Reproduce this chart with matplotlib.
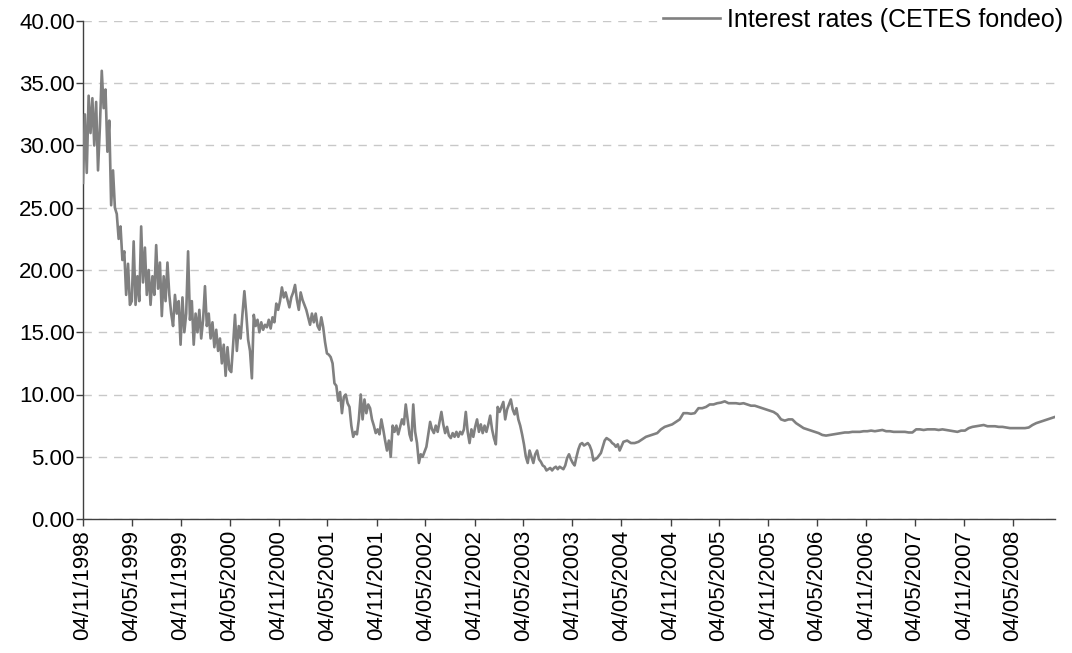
"""
CETES fondeo interest rate, Nov 1998 - Oct 2008.

Weekly readings for the volatile 1998-2004 stretch, then every two weeks
once the series calms down.
"""

import matplotlib

matplotlib.use("Agg")
import matplotlib.pyplot as plt
import pandas as pd
from matplotlib.ticker import FormatStrFormatter, MultipleLocator, NullLocator

OUTPUT_PATH = "out.png"

COLOR_LINE = "#808080"
COLOR_GRID = "#c8c8c8"
COLOR_AXIS = "#404040"
COLOR_INK = "#000000"

SERIES_LABEL = "Interest rates (CETES fondeo)"

# weekly values, first week 04/11/1998
WEEKLY_START = "1998-11-04"
weekly_rates = [
    27.0, 32.5, 27.8, 34.0, 31.0, 33.8, 30.0, 33.5, 28.0, 31.5,
    36.0, 33.0, 34.5, 29.5, 32.0, 25.2, 28.0, 25.0, 24.5, 22.5,
    23.5, 20.8, 21.5, 18.0, 20.5, 17.2, 17.5, 22.3, 17.2, 19.5,
    17.5, 23.5, 19.0, 21.8, 18.0, 20.0, 17.2, 19.5, 18.0, 22.0,
    18.5, 20.6, 16.3, 19.5, 17.5, 20.6, 18.0, 16.5, 15.5, 18.0,
    16.5, 17.5, 14.0, 17.8, 15.0, 16.5, 21.5, 16.0, 17.5, 14.0,
    16.5, 15.0, 16.8, 14.5, 16.0, 18.7, 15.5, 16.5, 14.5, 15.8,
    13.8, 15.2, 13.5, 14.5, 12.5, 14.0, 11.5, 13.8, 12.0, 11.8,
    14.0, 16.4, 13.5, 15.5, 14.5, 16.5, 18.3, 16.5, 14.4, 13.5,
    11.3, 16.4, 15.5, 16.0, 15.0, 15.8, 15.2, 15.6, 15.4, 16.0,
    15.3, 16.2, 15.8, 17.3, 16.8, 17.5, 18.6, 17.8, 18.2, 17.6,
    17.0, 17.8, 18.2, 18.8, 17.6, 16.8, 18.2, 17.6, 17.2, 16.8,
    16.2, 15.6, 16.5, 15.8, 16.5, 15.5, 15.2, 16.2, 15.4, 14.2,
    13.3, 13.2, 13.0, 12.5, 10.9, 10.7, 9.5, 10.2, 8.5, 9.8,
    10.0, 9.3, 9.0, 7.5, 6.6, 7.0, 6.8, 8.0, 10.0, 8.0,
    9.6, 8.5, 9.2, 8.9, 8.0, 7.5, 6.9, 7.2, 6.8, 8.0,
    7.2, 6.3, 5.5, 6.3, 5.0, 7.5, 7.0, 7.5, 6.8, 7.4,
    8.0, 7.6, 9.2, 8.0, 6.8, 6.3, 9.2, 7.0, 6.1, 4.5,
    5.2, 5.0, 5.4, 5.8, 6.8, 7.8, 7.2, 6.9, 7.5, 7.0,
    7.8, 8.6, 7.6, 6.9, 7.4, 6.7, 6.5, 6.9, 6.6, 7.0,
    6.6, 7.0, 6.8, 7.2, 8.6, 7.0, 6.1, 7.2, 6.6, 7.4,
    8.0, 7.0, 7.6, 6.9, 7.5, 7.0, 7.6, 8.3, 7.2, 6.5,
    6.0, 9.0, 8.6, 9.0, 9.4, 8.0, 8.8, 9.2, 9.6, 8.8,
    8.4, 8.9, 8.0, 7.5, 6.8, 6.0, 5.0, 4.5, 5.5, 5.0,
    4.5, 5.2, 5.5, 4.8, 4.6, 4.3, 4.2, 3.9, 4.0, 4.1,
    3.9, 4.1, 4.2, 4.0, 4.2, 4.1, 4.0, 4.3, 4.9, 5.2,
    4.8, 4.5, 4.3, 5.0, 5.6, 6.0, 6.1, 5.9, 6.0, 6.1,
    5.9, 5.5, 4.7, 4.8, 4.9, 5.1, 5.3, 5.8, 6.3, 6.5,
    6.4, 6.3, 6.1, 6.0, 5.8, 6.0, 5.5,
]

# fortnightly values after the weekly stretch
fortnightly_rates = [
    6.2, 6.3, 6.1, 6.1, 6.2, 6.4, 6.6, 6.7, 6.8, 6.9,
    7.2, 7.4, 7.5, 7.6, 7.8, 8.0, 8.5, 8.5, 8.45, 8.5,
    8.9, 8.9, 9.0, 9.2, 9.2, 9.3, 9.35, 9.45, 9.3, 9.3,
    9.3, 9.25, 9.3, 9.2, 9.1, 9.1, 9.0, 8.9, 8.8, 8.7,
    8.6, 8.4, 8.0, 7.9, 8.0, 8.0, 7.7, 7.5, 7.3, 7.2,
    7.1, 7.0, 6.9, 6.75, 6.7, 6.75, 6.8, 6.85, 6.9, 6.95,
    6.95, 7.0, 7.0, 7.0, 7.05, 7.05, 7.1, 7.05, 7.1, 7.15,
    7.05, 7.05, 7.0, 7.0, 7.0, 7.0, 6.95, 6.95, 7.2, 7.2,
    7.15, 7.2, 7.2, 7.2, 7.15, 7.2, 7.15, 7.1, 7.05, 7.0,
    7.1, 7.1, 7.3, 7.4, 7.45, 7.5, 7.55, 7.45, 7.45, 7.45,
    7.4, 7.4, 7.35, 7.3, 7.3, 7.3, 7.3, 7.3, 7.35, 7.55,
    7.7, 7.8, 7.9, 8.0, 8.1, 8.2,
]

Y_TICKS_STEP = 5
Y_MAX = 40
FIRST_TICK = "1998-11-04"
N_TICKS = 20


def build_series() -> pd.Series:
    weekly_dates = pd.date_range(WEEKLY_START, periods=len(weekly_rates), freq="7D")
    fort_start = weekly_dates[-1] + pd.Timedelta(days=14)
    fort_dates = pd.date_range(fort_start, periods=len(fortnightly_rates), freq="14D")
    dates = weekly_dates.append(fort_dates)
    return pd.Series(weekly_rates + fortnightly_rates, index=dates)


def tick_dates() -> list:
    first = pd.Timestamp(FIRST_TICK)
    return [first + pd.DateOffset(months=6 * i) for i in range(N_TICKS)]


def main() -> None:
    plt.rcParams["font.family"] = ["Liberation Sans", "DejaVu Sans"]
    series = build_series()

    fig = plt.figure(figsize=(10.72, 6.53), dpi=100)
    ax = fig.add_axes([83 / 1072, 1 - 519 / 653, (1055 - 83) / 1072, (519 - 21) / 653])

    ax.plot(series.index, series.values, color=COLOR_LINE, linewidth=1.9,
            label=SERIES_LABEL, zorder=3)

    ax.set_ylim(0, Y_MAX)
    ax.set_xlim(pd.Timestamp(FIRST_TICK), series.index[-1])
    ax.yaxis.set_major_locator(MultipleLocator(Y_TICKS_STEP))
    ax.yaxis.set_major_formatter(FormatStrFormatter("%.2f"))

    ticks = tick_dates()
    ax.set_xticks(ticks)
    ax.set_xticklabels([t.strftime("%d/%m/%Y") for t in ticks], rotation=90)
    ax.xaxis.set_minor_locator(NullLocator())
    ax.yaxis.set_minor_locator(NullLocator())

    ax.tick_params(axis="both", labelsize=16, colors=COLOR_AXIS,
                   labelcolor=COLOR_INK, length=5, width=1, direction="out")
    ax.tick_params(axis="x", pad=3)
    ax.tick_params(axis="y", pad=1)

    ax.yaxis.grid(True, color=COLOR_GRID, linewidth=1, linestyle=(0, (6, 5)))
    ax.set_axisbelow(True)
    for spine in ("top", "right"):
        ax.spines[spine].set_visible(False)
    for spine in ("left", "bottom"):
        ax.spines[spine].set_color(COLOR_AXIS)
        ax.spines[spine].set_linewidth(1)

    leg = fig.legend(loc="center right", bbox_to_anchor=(1067 / 1072, 1 - 20 / 653),
                     fontsize=18, frameon=True, handlelength=2.25,
                     handletextpad=0.3, borderpad=0.15, borderaxespad=0)
    leg.get_frame().set_edgecolor("none")
    leg.get_frame().set_facecolor("white")
    leg.get_frame().set_alpha(1)

    fig.savefig(OUTPUT_PATH, dpi=100, facecolor="white")


if __name__ == "__main__":
    main()
